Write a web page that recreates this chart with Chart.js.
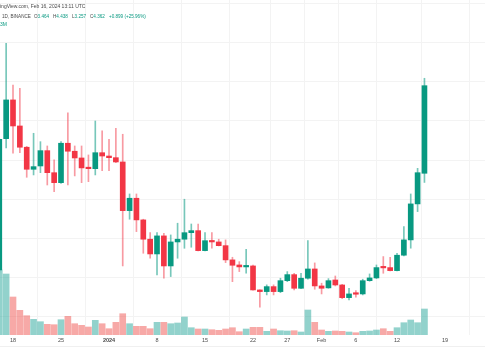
<!DOCTYPE html>
<html><head><meta charset="utf-8">
<script src="https://cdn.jsdelivr.net/npm/chart.js@4.4.1/dist/chart.umd.min.js"></script>
<style>
html,body{margin:0;padding:0;background:#fff;}
#wrap{position:relative;width:485px;height:360px;overflow:hidden;background:#fff;}
#c{position:absolute;left:0;top:0;}
.hdr{position:absolute;font-family:'Liberation Sans',Arial,sans-serif;font-size:5px;color:#4a4a4a;white-space:nowrap;line-height:6px;}
.l2{font-size:4.6px;}
.g{color:#089981;}
#bline{position:absolute;left:0;top:346px;width:485px;height:1px;background:#f0f0f0;}
</style></head><body>
<div id="wrap">
<canvas id="c" width="485" height="360"></canvas>
<div class="hdr" style="left:0;top:3px">ingView.com, Feb 16, 2024 13:11 UTC</div>
<div class="hdr l2" style="left:2px;top:14px">1D, BINANCE</div>
<div class="hdr l2" style="left:34px;top:14px">O<span class="g">3.464</span></div>
<div class="hdr l2" style="left:53px;top:14px">H<span class="g">4.438</span></div>
<div class="hdr l2" style="left:72px;top:14px">L<span class="g">3.257</span></div>
<div class="hdr l2" style="left:90px;top:14px">C<span class="g">4.362</span></div>
<div class="hdr l2 g" style="left:109px;top:14px">+0.899 (+25.96%)</div>
<div class="hdr g" style="left:0;top:21px">3M</div>
<div id="bline"></div>
</div>
<script>
const dates = [
 '2023-12-16','2023-12-17','2023-12-18','2023-12-19','2023-12-20','2023-12-21','2023-12-22','2023-12-23',
 '2023-12-24','2023-12-25','2023-12-26','2023-12-27','2023-12-28','2023-12-29','2023-12-30','2023-12-31',
 '2024-01-01','2024-01-02','2024-01-03','2024-01-04','2024-01-05','2024-01-06','2024-01-07','2024-01-08',
 '2024-01-09','2024-01-10','2024-01-11','2024-01-12','2024-01-13','2024-01-14','2024-01-15','2024-01-16',
 '2024-01-17','2024-01-18','2024-01-19','2024-01-20','2024-01-21','2024-01-22','2024-01-23','2024-01-24',
 '2024-01-25','2024-01-26','2024-01-27','2024-01-28','2024-01-29','2024-01-30','2024-01-31','2024-02-01',
 '2024-02-02','2024-02-03','2024-02-04','2024-02-05','2024-02-06','2024-02-07','2024-02-08','2024-02-09',
 '2024-02-10','2024-02-11','2024-02-12','2024-02-13','2024-02-14','2024-02-15','2024-02-16'];
const opens = [2.473,3.819,4.216,3.949,3.731,3.505,3.539,3.696,3.470,3.368,3.772,3.690,3.621,3.526,3.511,3.675,
 3.641,3.624,3.580,3.081,3.208,2.986,2.788,2.637,2.822,2.514,2.760,2.788,2.855,2.876,2.671,2.773,
 2.760,2.722,2.576,2.524,2.504,2.514,2.268,2.251,2.302,2.251,2.363,2.425,2.285,2.388,2.483,2.309,
 2.289,2.370,2.319,2.189,2.227,2.227,2.363,2.391,2.497,2.497,2.466,2.624,2.781,3.150,3.464];
const highs = [3.820,4.797,4.369,4.336,3.740,3.874,3.788,3.744,3.601,3.788,4.085,3.744,3.744,3.652,4.000,3.898,
 3.813,3.925,3.864,3.252,3.252,2.993,2.855,2.855,2.849,2.832,2.952,3.198,2.944,2.944,2.855,2.855,
 2.788,2.781,2.603,2.558,2.685,2.524,2.268,2.320,2.320,2.388,2.456,2.439,2.439,2.774,2.545,2.337,
 2.384,2.411,2.326,2.285,2.261,2.378,2.432,2.524,2.610,2.603,2.644,2.917,3.252,3.515,4.438];
const lows = [2.450,3.724,3.669,3.675,3.423,3.447,3.470,3.344,3.276,3.360,3.344,3.437,3.368,3.378,3.447,3.491,
 3.491,3.573,2.514,2.993,2.866,2.644,2.593,2.422,2.388,2.405,2.593,2.695,2.706,2.668,2.668,2.695,
 2.719,2.548,2.353,2.456,2.439,2.265,2.091,2.217,2.217,2.240,2.353,2.268,2.280,2.378,2.275,2.227,
 2.285,2.309,2.179,2.165,2.193,2.217,2.357,2.384,2.439,2.463,2.463,2.617,2.696,3.071,3.370];
const closes = [3.813,4.216,3.949,3.731,3.505,3.532,3.696,3.470,3.368,3.772,3.690,3.621,3.519,3.511,3.675,3.641,
 3.624,3.580,3.081,3.208,2.986,2.788,2.637,2.822,2.514,2.760,2.788,2.855,2.876,2.671,2.773,2.760,
 2.722,2.576,2.521,2.504,2.511,2.268,2.251,2.302,2.251,2.363,2.425,2.285,2.388,2.483,2.309,2.285,
 2.363,2.319,2.189,2.227,2.224,2.363,2.391,2.497,2.494,2.466,2.624,2.781,3.150,3.470,4.362];
const volumes = [65,61,38,24.7,19.3,15.7,13.3,10.7,10.3,15.3,18.7,11.3,9.7,8,14.7,11.3,
 6.3,12.7,21.3,11.3,8.7,8.7,6.3,12.7,12.7,11.3,12,18,7.3,6,6,5.3,
 4.7,6,7.3,3.3,6,7.7,7.7,3.7,6,4.3,4,4.3,3,25,12.7,5,
 3.7,4,3.7,3,2.3,3.7,4,5,6.3,3.7,7.3,12.3,15,12.3,26];
const tickDates = ['2023-12-18','2023-12-25','2024-01-01','2024-01-08','2024-01-15','2024-01-22','2024-01-27','2024-02-01','2024-02-06','2024-02-12','2024-02-19'];
const tickLabels = ['18','25','2024','8','15','22','27','Feb','6','12','19'];

const DAY = 86400000;
const base = Date.parse('2023-12-18');
const dayOf = s => Math.round((Date.parse(s) - base) / DAY);
const xs = dates.map(dayOf);
const tickDays = tickDates.map(dayOf);

const UP = '#089981', DOWN = '#f23645';
const isUp = i => closes[i] >= opens[i];
const bodyCol = dates.map((d,i) => isUp(i) ? UP : DOWN);
const wickCol = dates.map((d,i) => isUp(i) ? 'rgba(8,153,129,0.55)' : 'rgba(242,54,69,0.5)');
const volCol = dates.map((d,i) => isUp(i) ? 'rgba(38,166,154,0.5)' : 'rgba(239,83,80,0.5)');

new Chart(document.getElementById('c'), {
  type: 'bar',
  data: {
    datasets: [
      { label:'Volume', yAxisID:'yv', order:3, data: xs.map((x,i)=>({x, y: volumes[i]})),
        backgroundColor: volCol, barThickness: 6, grouped:false },
      { label:'Wick', yAxisID:'y', order:2, data: xs.map((x,i)=>({x, y:[lows[i], highs[i]]})),
        backgroundColor: wickCol, barThickness: 1, grouped:false },
      { label:'Body', yAxisID:'y', order:1, data: xs.map((x,i)=>({x, y:[opens[i], closes[i]]})),
        backgroundColor: bodyCol, barThickness: 5, grouped:false, minBarLength: 1.5 }
    ]
  },
  options: {
    responsive:false, animation:false, devicePixelRatio:1,
    layout:{ padding:0 },
    plugins:{ legend:{display:false}, tooltip:{enabled:false} },
    scales:{
      x:{ type:'linear', min:-1.896, max:68.83, offset:false,
          afterFit: s => { s.height = 25; },
          afterBuildTicks: s => { s.ticks = tickDays.map(v => ({value:v})); },
          grid:{ color:'#f3f3f3', drawTicks:false, lineWidth:1 },
          border:{ display:false },
          ticks:{ autoSkip:false, maxRotation:0, padding:2, color:'#4a4a4a',
            font: c => ({ family:"'Liberation Sans', Arial, sans-serif", size:5.5,
                          weight: (c.tick && tickLabels[tickDays.indexOf(c.tick.value)]==='2024') ? 'bold':'normal' }),
            callback: v => tickLabels[tickDays.indexOf(v)] ?? '' } },
      y:{ type:'linear', position:'right', min:1.806, max:5.2405,
          afterFit: s => { s.width = 0; },
          grid:{ color:'#f3f3f3', drawTicks:false },
          border:{ display:false },
          ticks:{ display:false, stepSize:0.4, includeBounds:false } },
      yv:{ type:'linear', display:false, min:0, max:335 }
    }
  }
});
</script>
</body></html>
